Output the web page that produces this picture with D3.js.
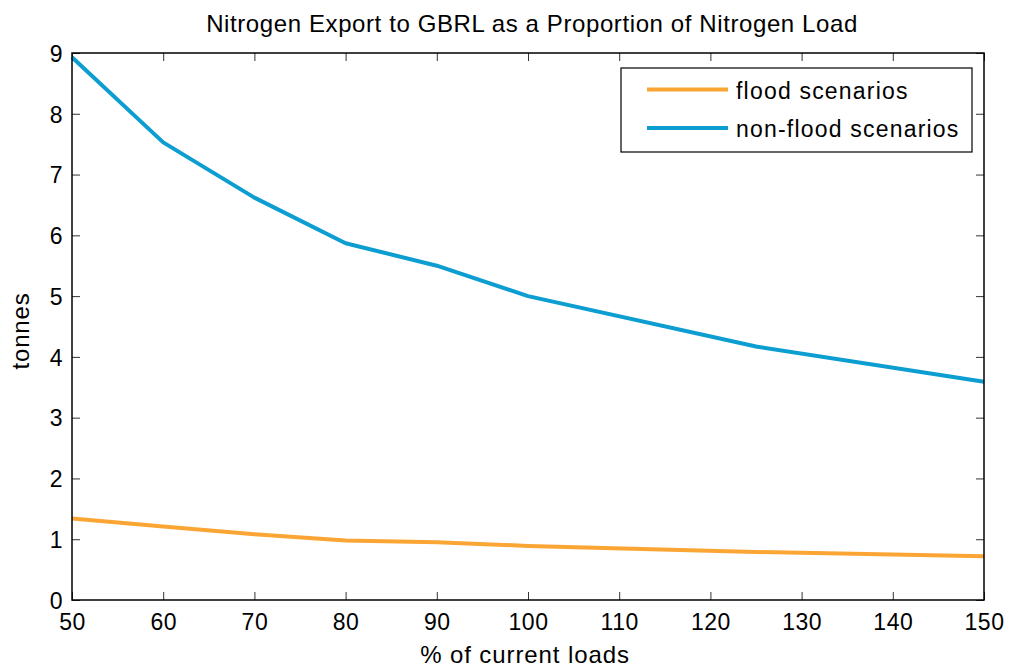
<!DOCTYPE html>
<html><head><meta charset="utf-8">
<script src="https://cdn.jsdelivr.net/npm/d3@7"></script>
<style>body{margin:0;background:#fff}svg{display:block}text{font-family:"Liberation Sans",Arial,sans-serif;fill:#000}</style>
</head><body><svg id="c" width="1012" height="669"></svg>
<script>
const xValues = [50, 60, 70, 80, 90, 100, 125, 150];
const floodValues = [1.34, 1.21, 1.08, 0.98, 0.95, 0.89, 0.79, 0.72];
const nonFloodValues = [8.93, 7.53, 6.62, 5.87, 5.50, 5.00, 4.17, 3.59];
const xTicks = [50, 60, 70, 80, 90, 100, 110, 120, 130, 140, 150];
const yTicks = [0, 1, 2, 3, 4, 5, 6, 7, 8, 9];
const seriesNames = ["flood scenarios", "non-flood scenarios"];
const seriesColors = ["#FBA535", "#0C9DD1"];

(function () {
const svg = d3.select("#c");
const L = 72, R = 984, T = 53, B = 600;
const x = d3.scaleLinear().domain([50, 150]).range([L, R]);
const y = d3.scaleLinear().domain([0, 9]).range([B, T]);

const fs = 23;
const gBottom = svg.append("g").attr("transform", `translate(0,${B})`)
  .call(d3.axisBottom(x).tickValues(xTicks).tickSizeInner(-8).tickSizeOuter(0).tickPadding(13.5));
const gTop = svg.append("g").attr("transform", `translate(0,${T})`)
  .call(d3.axisTop(x).tickValues(xTicks).tickSizeInner(-8).tickSizeOuter(0).tickFormat(""));
const gLeft = svg.append("g").attr("transform", `translate(${L},0)`)
  .call(d3.axisLeft(y).tickValues(yTicks).tickSizeInner(-8).tickSizeOuter(0).tickPadding(9));
const gRight = svg.append("g").attr("transform", `translate(${R},0)`)
  .call(d3.axisRight(y).tickValues(yTicks).tickSizeInner(-8).tickSizeOuter(0).tickFormat(""));
[gBottom, gTop, gLeft, gRight].forEach(g => {
  g.selectAll(".domain").remove();
  g.selectAll("line").attr("stroke", "#333").attr("stroke-width", 1);
  g.selectAll("text").attr("font-size", fs).attr("font-family", "Liberation Sans, Arial, sans-serif")
    .attr("fill", "#000").attr("letter-spacing", 0.5);
});
gLeft.selectAll("text").attr("dy", "0.36em");

const series = [floodValues, nonFloodValues];
const line = d3.line().x((d, i) => x(xValues[i])).y(d => y(d));
series.forEach((s, k) => {
  svg.append("path").datum(s).attr("d", line).attr("fill", "none")
    .attr("stroke", seriesColors[k]).attr("stroke-width", 4).attr("stroke-linejoin", "round");
});

svg.append("rect").attr("x", L).attr("y", T).attr("width", R - L).attr("height", B - T)
  .attr("fill", "none").attr("stroke", "#000").attr("stroke-width", 1.5);

svg.append("text").attr("x", 532).attr("y", 31.5).attr("text-anchor", "middle")
  .attr("font-size", 24).attr("letter-spacing", 0.6).text("Nitrogen Export to GBRL as a Proportion of Nitrogen Load");
svg.append("text").attr("x", 525).attr("y", 663).attr("text-anchor", "middle")
  .attr("font-size", 24).attr("letter-spacing", 0.9).text("% of current loads");
svg.append("text").attr("transform", `translate(28.5,331) rotate(-90)`).attr("text-anchor", "middle")
  .attr("font-size", 24).attr("letter-spacing", 0.8).text("tonnes");

const lg = svg.append("g");
lg.append("rect").attr("x", 621).attr("y", 68).attr("width", 351).attr("height", 84)
  .attr("fill", "#fff").attr("stroke", "#000").attr("stroke-width", 1.2);
seriesNames.forEach((n, k) => {
  const yy = 89.5 + k * 38.5;
  lg.append("line").attr("x1", 647).attr("x2", 728).attr("y1", yy).attr("y2", yy)
    .attr("stroke", seriesColors[k]).attr("stroke-width", 4);
  lg.append("text").attr("x", 736).attr("y", yy + 9).attr("font-size", 23).attr("letter-spacing", 1.2).text(n);
});
})();
</script></body></html>
